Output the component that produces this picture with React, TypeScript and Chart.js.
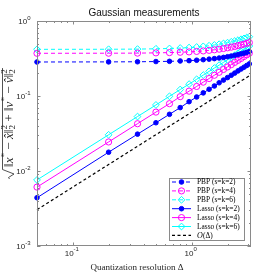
import React, { useEffect, useRef } from "react";
import { Chart, registerables } from "chart.js";
Chart.register(...registerables);

// ---------------- data ----------------
const delta = [0.05, 0.2, 0.35, 0.5, 0.65, 0.8, 0.95, 1.1, 1.25, 1.4, 1.55, 1.7, 1.85, 2.0, 2.15, 2.3, 2.45, 2.6, 2.75, 2.9, 3.05];
const pbpK2 = [0.284, 0.285, 0.286, 0.288, 0.290, 0.293, 0.296, 0.300, 0.305, 0.310, 0.315, 0.321, 0.327, 0.334, 0.341, 0.349, 0.357, 0.365, 0.373, 0.382, 0.391];
const pbpK4 = [0.371, 0.372, 0.373, 0.376, 0.379, 0.383, 0.387, 0.393, 0.399, 0.406, 0.413, 0.421, 0.430, 0.439, 0.448, 0.458, 0.469, 0.480, 0.491, 0.503, 0.515];
const pbpK6 = [0.419, 0.420, 0.422, 0.426, 0.430, 0.436, 0.442, 0.450, 0.459, 0.468, 0.479, 0.490, 0.502, 0.514, 0.528, 0.541, 0.556, 0.571, 0.586, 0.602, 0.618];
const lassoK2 = [0.0044, 0.0178, 0.031, 0.044, 0.057, 0.070, 0.084, 0.097, 0.110, 0.123, 0.136, 0.150, 0.163, 0.176, 0.189, 0.202, 0.216, 0.229, 0.242, 0.255, 0.268];
const lassoK4 = [0.0061, 0.0244, 0.0427, 0.061, 0.079, 0.098, 0.116, 0.134, 0.153, 0.171, 0.189, 0.207, 0.226, 0.244, 0.262, 0.281, 0.299, 0.317, 0.336, 0.354, 0.372];
const lassoK6 = [0.0076, 0.0304, 0.0532, 0.076, 0.099, 0.122, 0.144, 0.167, 0.190, 0.213, 0.236, 0.258, 0.281, 0.304, 0.327, 0.350, 0.372, 0.395, 0.418, 0.441, 0.464];
const orderDelta = [0.00305, 0.0122, 0.02135, 0.0305, 0.03965, 0.0488, 0.05795, 0.0671, 0.07625, 0.0854, 0.09455, 0.1037, 0.11285, 0.122, 0.13115, 0.1403, 0.14945, 0.1586, 0.16775, 0.1769, 0.18605];

const seriesLabels = ["PBP (s=k=2)", "PBP (s=k=4)", "PBP (s=k=6)", "Lasso (s=k=2)", "Lasso (s=k=4)", "Lasso (s=k=6)", "O(Δ)"];
const xMajorTicks = [0.1, 1];
const xMajorExp = ["-1", "0"];
const yMajorTicks = [0.001, 0.01, 0.1, 1];
const yMajorExp = ["-3", "-2", "-1", "0"];
const titleText = "Gaussian measurements";
const xTitleText = "Quantization resolution Δ";

// ---------------- styles ----------------
const BLUE = "#0000ff";
const MAGENTA = "#ff00ff";
const CYAN = "#00ffff";
const AXIS = "#8a8a8a";
const TEXT = "#262626";
const SANS = '"Liberation Sans", Arial, Helvetica, sans-serif';
const SERIF = '"Liberation Serif", "DejaVu Serif", "Times New Roman", serif';

type Mk = { style: string; filled: boolean; r: number };

function drawMarker(ctx: CanvasRenderingContext2D, m: Mk, x: number, y: number, color: string) {
  ctx.save();
  ctx.setLineDash([]);
  ctx.beginPath();
  if (m.style === "circle") ctx.arc(x, y, m.r, 0, Math.PI * 2);
  else {
    ctx.moveTo(x, y - m.r);
    ctx.lineTo(x + m.r, y);
    ctx.lineTo(x, y + m.r);
    ctx.lineTo(x - m.r, y);
    ctx.closePath();
  }
  if (m.filled) {
    ctx.fillStyle = color;
    ctx.fill();
  }
  ctx.strokeStyle = color;
  ctx.lineWidth = 1;
  ctx.stroke();
  ctx.restore();
}

function drawPow(ctx: CanvasRenderingContext2D, exp: string, x: number, y: number, align: "right" | "center") {
  ctx.font = `8px ${SANS}`;
  const wb = ctx.measureText("10").width;
  ctx.font = `6px ${SANS}`;
  const we = ctx.measureText(exp).width;
  const total = wb + we;
  const x0 = align === "right" ? x - total : x - total / 2;
  ctx.textAlign = "left";
  ctx.textBaseline = "middle";
  ctx.fillStyle = TEXT;
  ctx.font = `8px ${SANS}`;
  ctx.fillText("10", x0, y);
  ctx.font = `6px ${SANS}`;
  ctx.fillText(exp, x0 + wb, y - 4);
}

const yLabelParts: { t: string; s: string }[] = [
  { t: "‖", s: "n" }, { t: "x", s: "i" }, { t: "*", s: "sup" }, { t: " − ", s: "n" }, { t: "x̂", s: "i" }, { t: "‖", s: "n" }, { t: "2", s: "ss" },
  { t: " + ", s: "n" },
  { t: "‖", s: "n" }, { t: "v", s: "i" }, { t: "*", s: "sup" }, { t: " − ", s: "n" }, { t: "v̂", s: "i" }, { t: "‖", s: "n" }, { t: "2", s: "ss" },
];

function drawYLabel(ctx: CanvasRenderingContext2D) {
  const base = 9;
  const fontFor = (s: string, f: number) =>
    s === "i" ? `italic ${f}px ${SERIF}` : s === "n" ? `${f}px ${SERIF}` : `${f * 0.7}px ${SERIF}`;
  const measure = (f: number) => {
    let w = 0;
    for (const p of yLabelParts) {
      ctx.font = fontFor(p.s, f);
      w += ctx.measureText(p.t).width;
    }
    return w;
  };
  const f = base * (98 / measure(base));
  ctx.save();
  ctx.translate(0, 123);
  ctx.rotate(-Math.PI / 2);
  ctx.fillStyle = TEXT;
  ctx.textAlign = "left";
  ctx.textBaseline = "alphabetic";
  let u = -44;
  const vb = 12.5;
  for (const p of yLabelParts) {
    ctx.font = fontFor(p.s, f);
    const w = ctx.measureText(p.t).width;
    if (p.s === "sup") ctx.fillText(p.t, u, vb - f * 0.4);
    else if (p.s === "ss") {
      ctx.fillText(p.t, u, vb - f * 0.42);
      ctx.fillText(p.t, u, vb + f * 0.22);
    } else ctx.fillText(p.t, u, vb);
    u += w;
  }
  // radical
  ctx.strokeStyle = TEXT;
  ctx.lineWidth = 0.8;
  ctx.beginPath();
  ctx.moveTo(-56, 9.5);
  ctx.lineTo(-54.5, 8.5);
  ctx.lineTo(-51, 14);
  ctx.lineTo(-46.5, 2.5);
  ctx.lineTo(u + 1, 2.5);
  ctx.stroke();
  ctx.restore();
}

const matlabPlugin = {
  id: "matlabAxes",
  afterDraw(chart: any) {
    const ctx: CanvasRenderingContext2D = chart.ctx;
    const a = chart.chartArea;
    const xs = chart.scales.x;
    const ys = chart.scales.y;
    ctx.save();
    // box
    ctx.strokeStyle = AXIS;
    ctx.lineWidth = 1;
    ctx.setLineDash([]);
    ctx.strokeRect(a.left + 0.5, a.top + 0.5, a.right - a.left - 1, a.bottom - a.top - 1);
    const majL = 3.5, minL = 2;
    ctx.beginPath();
    // y ticks
    for (let k = -3; k <= 0; k++) {
      for (let m = 1; m <= 9; m++) {
        const v = m * Math.pow(10, k);
        if (v > 1.0000001) break;
        const py = Math.round(ys.getPixelForValue(v)) + 0.5;
        const L = m === 1 ? majL : minL;
        ctx.moveTo(a.left, py); ctx.lineTo(a.left + L, py);
        ctx.moveTo(a.right, py); ctx.lineTo(a.right - L, py);
      }
    }
    // x ticks
    for (let k = -2; k <= 0; k++) {
      for (let m = 1; m <= 9; m++) {
        const v = m * Math.pow(10, k);
        if (v < xs.min - 1e-9 || v > xs.max + 1e-9) continue;
        const px = Math.round(xs.getPixelForValue(v)) + 0.5;
        const L = m === 1 ? majL : minL;
        ctx.moveTo(px, a.bottom); ctx.lineTo(px, a.bottom - L);
        ctx.moveTo(px, a.top); ctx.lineTo(px, a.top + L);
      }
    }
    ctx.stroke();
    // tick labels
    yMajorTicks.forEach((v, i) => {
      const py = ys.getPixelForValue(v);
      drawPow(ctx, yMajorExp[i], a.left - 6.5, py + 1, "right");
    });
    xMajorTicks.forEach((v, i) => {
      const px = xs.getPixelForValue(v);
      drawPow(ctx, xMajorExp[i], px - 1, a.bottom + 7.5, "center");
    });
    // title
    ctx.fillStyle = "#111";
    ctx.font = `10px ${SANS}`;
    ctx.textAlign = "center";
    ctx.textBaseline = "middle";
    ctx.fillText(titleText, (a.left + a.right) / 2, 13.5);
    // x title
    let fs = 9;
    ctx.font = `${fs}px ${SERIF}`;
    fs = fs * (93 / ctx.measureText(xTitleText).width);
    ctx.font = `${fs}px ${SERIF}`;
    ctx.fillStyle = TEXT;
    ctx.fillText(xTitleText, 137, 268);
    // y title
    drawYLabel(ctx);

    // legend
    const bx = 169.5, by = 178.5, bw = 75, bh = 62;
    ctx.fillStyle = "#ffffff";
    ctx.fillRect(bx, by, bw, bh);
    ctx.strokeStyle = "#8a8a8a";
    ctx.lineWidth = 1;
    ctx.strokeRect(bx, by, bw, bh);
    ctx.textAlign = "left";
    ctx.textBaseline = "middle";
    chart.data.datasets.forEach((ds: any, i: number) => {
      const y = 182 + i * 8.9;
      ctx.save();
      ctx.strokeStyle = ds.borderColor;
      ctx.lineWidth = ds.borderWidth;
      ctx.setLineDash(ds.borderDash || []);
      ctx.beginPath();
      ctx.moveTo(172, y);
      ctx.lineTo(191, y);
      ctx.stroke();
      ctx.restore();
      if (ds.legendMarker) drawMarker(ctx, ds.legendMarker, 181.5, y, ds.borderColor);
      ctx.fillStyle = "#000";
      if (ds.legendMarker) {
        ctx.font = `7.4px ${SERIF}`;
        ctx.fillText(ds.label, 197, y + 0.5);
      } else {
        // calligraphic-style O followed by (Δ)
        const lbl: string = ds.label;
        ctx.font = `italic 8px ${SERIF}`;
        ctx.fillText(lbl.charAt(0), 197, y + 0.5);
        const w0 = ctx.measureText(lbl.charAt(0)).width;
        ctx.font = `7.4px ${SERIF}`;
        ctx.fillText(lbl.slice(1), 197 + w0 + 0.3, y + 0.5);
      }
    });
    ctx.restore();
  },
};

function makeDs(label: string, ys: number[], color: string, dash: number[], mk: Mk | null, width = 1) {
  return {
    label,
    data: delta.map((x, i) => ({ x, y: ys[i] })),
    borderColor: color,
    backgroundColor: color,
    borderWidth: width,
    borderDash: dash,
    pointStyle: mk ? mk.style : "circle",
    pointRadius: mk ? mk.r : 0,
    pointBorderWidth: 1,
    pointBorderColor: color,
    pointBackgroundColor: mk && mk.filled ? color : "rgba(0,0,0,0)",
    tension: 0,
    clip: false as any,
    legendMarker: mk,
  };
}

const mkStar: Mk = { style: "circle", filled: true, r: 2.3 };
const mkCircle: Mk = { style: "circle", filled: false, r: 3.1 };
const mkDiamond: Mk = { style: "rectRot", filled: false, r: 3.4 };

export default function App() {
  const ref = useRef<HTMLCanvasElement | null>(null);
  useEffect(() => {
    if (!ref.current) return;
    const dash = [4, 3];
    const chart = new Chart(ref.current, {
      type: "line",
      data: {
        datasets: [
          makeDs(seriesLabels[0], pbpK2, BLUE, dash, mkStar),
          makeDs(seriesLabels[1], pbpK4, MAGENTA, dash, mkCircle),
          makeDs(seriesLabels[2], pbpK6, CYAN, dash, mkDiamond),
          makeDs(seriesLabels[3], lassoK2, BLUE, [], mkStar),
          makeDs(seriesLabels[4], lassoK4, MAGENTA, [], mkCircle),
          makeDs(seriesLabels[5], lassoK6, CYAN, [], mkDiamond),
          makeDs(seriesLabels[6], orderDelta, "#000000", [3, 2.5], null, 1.2),
        ] as any,
      },
      options: {
        responsive: false,
        animation: false,
        devicePixelRatio: 1,
        layout: { padding: { left: 37, right: 26, top: 21, bottom: 31 } },
        plugins: { legend: { display: false }, title: { display: false }, tooltip: { enabled: false } },
        scales: {
          x: { type: "logarithmic", min: 0.05, max: 3.15, display: false },
          y: { type: "logarithmic", min: 0.001, max: 1, display: false },
        },
      },
      plugins: [matlabPlugin],
    });
    return () => chart.destroy();
  }, []);
  return (
    <div style={{ position: "absolute", left: 0, top: 0, width: 277, height: 277, background: "#fff" }}>
      <canvas ref={ref} width={277} height={277} style={{ display: "block" }} />
    </div>
  );
}
